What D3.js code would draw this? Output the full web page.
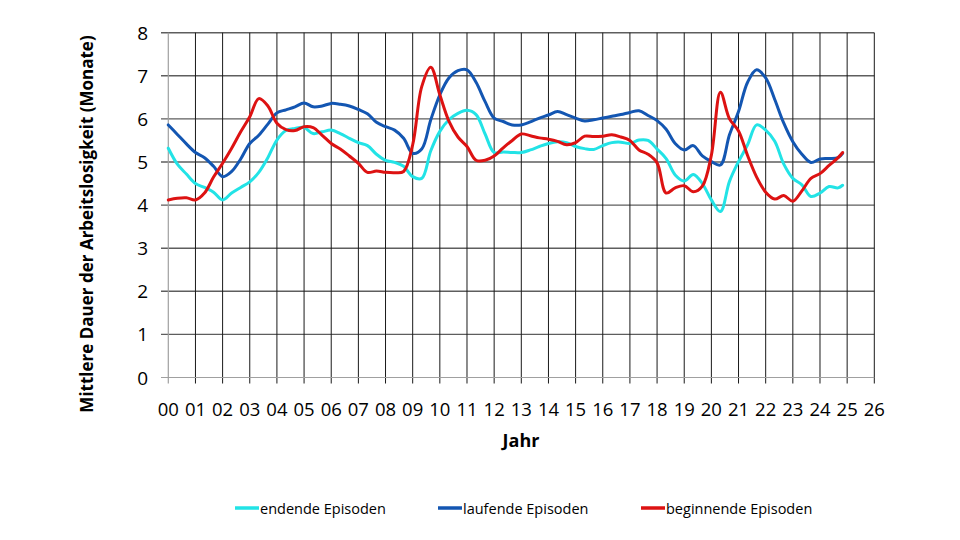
<!DOCTYPE html>
<html><head><meta charset="utf-8">
<script src="https://cdn.jsdelivr.net/npm/d3@7"></script>
<style>
html,body{margin:0;padding:0;background:#fff;}
svg{display:block;font-family:"Open Sans",sans-serif;}
</style></head>
<body>
<svg id="chart" width="960" height="540"></svg>
<script>
// ---- data ----
const months = [
 "2000-01","2000-05","2000-09","2001-01","2001-05","2001-09","2002-01","2002-05","2002-09",
 "2003-01","2003-05","2003-09","2004-01","2004-05","2004-09","2005-01","2005-05","2005-09",
 "2006-01","2006-05","2006-09","2007-01","2007-05","2007-09","2008-01","2008-05","2008-09",
 "2009-01","2009-05","2009-09","2010-01","2010-05","2010-09","2011-01","2011-05","2011-09",
 "2012-01","2012-05","2012-09","2013-01","2013-05","2013-09","2014-01","2014-05","2014-09",
 "2015-01","2015-05","2015-09","2016-01","2016-05","2016-09","2017-01","2017-05","2017-09",
 "2018-01","2018-05","2018-09","2019-01","2019-05","2019-09","2020-01","2020-05","2020-09",
 "2021-01","2021-05","2021-09","2022-01","2022-05","2022-09","2023-01","2023-05","2023-09",
 "2024-01","2024-05","2024-09","2024-11"
];
const endende = [
 5.32,4.95,4.72, 4.50,4.41,4.30, 4.12,4.28,4.41, 4.54,4.76,5.10, 5.51,5.73,5.78,
 5.80,5.66,5.70, 5.74,5.66,5.55, 5.45,5.38,5.18, 5.04,4.99,4.90, 4.66,4.62,5.26,
 5.71,5.98,6.13, 6.20,6.10,5.65, 5.22,5.23,5.22, 5.22,5.28,5.36, 5.43,5.47,5.45,
 5.36,5.31,5.29, 5.38,5.45,5.46, 5.43,5.51,5.50, 5.30,5.08,4.70, 4.56,4.71,4.50,
 4.12,3.85,4.55, 5.01,5.40,5.86, 5.74,5.48,4.95, 4.62,4.47,4.20, 4.28,4.43,4.40,4.46
];
const laufende = [
 5.86,5.64,5.42, 5.22,5.10,4.90, 4.66,4.78,5.07, 5.43,5.62,5.88, 6.14,6.21,6.28,
 6.37,6.28,6.30, 6.36,6.34,6.30, 6.22,6.12,5.92, 5.82,5.74,5.55, 5.20,5.30,5.98,
 6.56,6.95,7.12, 7.14,6.85,6.40, 6.02,5.94,5.86, 5.86,5.93,6.02, 6.09,6.17,6.10,
 6.02,5.95,5.98, 6.02,6.06,6.10, 6.15,6.19,6.08, 5.96,5.76,5.43, 5.28,5.38,5.14,
 5.01,4.93,5.63, 6.17,6.85,7.14, 6.95,6.45,5.90, 5.47,5.18,4.99, 5.07,5.08,5.10,5.20
];
const beginnende = [
 4.12,4.16,4.17, 4.12,4.28,4.65, 4.97,5.32,5.70, 6.05,6.47,6.30, 5.90,5.75,5.73,
 5.82,5.80,5.62, 5.43,5.30,5.14, 4.97,4.76,4.79, 4.76,4.75,4.78, 5.40,6.75,7.20,
 6.56,5.95,5.58, 5.36,5.04,5.04, 5.14,5.33,5.50, 5.65,5.61,5.56, 5.53,5.48,5.40,
 5.45,5.60,5.59, 5.60,5.63,5.58, 5.50,5.28,5.18, 4.98,4.28,4.40, 4.45,4.31,4.44,
 5.16,6.62,6.00, 5.72,5.15,4.65, 4.30,4.14,4.22, 4.09,4.33,4.62, 4.73,4.92,5.10,5.22
];
const xTickLabels = ["00","01","02","03","04","05","06","07","08","09","10","11","12","13",
 "14","15","16","17","18","19","20","21","22","23","24","25","26"];
const yTicks = [0,1,2,3,4,5,6,7,8];
const seriesNames = ["endende Episoden","laufende Episoden","beginnende Episoden"];
const seriesColors = ["#22e3e6","#1356b2","#dd1212"];

// ---- scales ----
const svg = d3.select("#chart");
const x = d3.scaleLinear().domain([0, 26]).range([168.3, 874.3]);
const y = d3.scaleLinear().domain([0, 8]).range([377.5, 32.7]);
const tOf = s => { const [yy, mm] = s.split("-").map(Number); return (yy - 2000) + (mm - 1) / 12; };
const tvals = months.map(tOf);

// ---- grid ----
const g = svg.append("g");
g.selectAll(".hg").data(yTicks.filter(v => v > 0)).join("line")
  .attr("x1", 161).attr("x2", x(26))
  .attr("y1", d => y(d)).attr("y2", d => y(d))
  .attr("stroke", "#5e5e5e").attr("stroke-width", 1.4);
g.selectAll(".vg").data(d3.range(1, 27)).join("line")
  .attr("x1", d => x(d)).attr("x2", d => x(d))
  .attr("y1", y(8)).attr("y2", y(0) + 6)
  .attr("stroke", "#1a1a1a").attr("stroke-width", 1);
g.append("line").attr("x1", 161).attr("x2", x(26)).attr("y1", y(0)).attr("y2", y(0))
  .attr("stroke", "#a0a0a0").attr("stroke-width", 1.2);
g.append("line").attr("x1", x(0)).attr("x2", x(0)).attr("y1", y(8)).attr("y2", y(0) + 6)
  .attr("stroke", "#a0a0a0").attr("stroke-width", 1.2);

// ---- tick labels ----
svg.append("g").selectAll("text").data(yTicks).join("text")
  .attr("x", 148).attr("y", d => y(d) + 7)
  .attr("text-anchor", "end").attr("font-size", 19).attr("fill", "#000")
  .text(d => d);
svg.append("g").selectAll("text").data(xTickLabels).join("text")
  .attr("x", (d, i) => x(i)).attr("y", 416)
  .attr("text-anchor", "middle").attr("font-size", 18.5).attr("fill", "#000")
  .text(d => d);

// ---- axis titles ----
svg.append("text").attr("x", 521).attr("y", 447).attr("text-anchor", "middle")
  .attr("font-size", 18).attr("font-weight", "bold").text("Jahr");
svg.append("text").attr("transform", "translate(93,224) rotate(-90)")
  .attr("text-anchor", "middle").attr("font-size", 17).attr("font-weight", "bold")
  .text("Mittlere Dauer der Arbeitslosigkeit (Monate)");

// ---- lines ----
const line = d3.line().x((d, i) => x(tvals[i])).y(d => y(d)).curve(d3.curveCatmullRom.alpha(0.5));
[endende, laufende, beginnende].forEach((s, k) => {
  svg.append("path").datum(s).attr("d", line).attr("fill", "none")
    .attr("stroke", seriesColors[k]).attr("stroke-width", 3)
    .attr("stroke-linejoin", "round").attr("stroke-linecap", "round");
});

// ---- legend ----
const legX = [235, 438, 641];
const leg = svg.append("g");
seriesNames.forEach((n, k) => {
  leg.append("line").attr("x1", legX[k]).attr("x2", legX[k] + 24)
    .attr("y1", 508).attr("y2", 508).attr("stroke", seriesColors[k]).attr("stroke-width", 3.5);
  leg.append("text").attr("x", legX[k] + 25).attr("y", 513.5).attr("font-size", 14.5)
    .attr("fill", "#000").text(n);
});
</script>
</body></html>
